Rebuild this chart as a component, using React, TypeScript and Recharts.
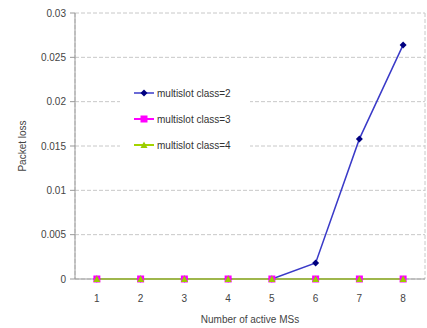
import React from 'react';
import { LineChart, Line, XAxis, YAxis, CartesianGrid, Legend } from 'recharts';

const msCounts = [1, 2, 3, 4, 5, 6, 7, 8];
const lossClass2 = [0, 0, 0, 0, 0, 0.0018, 0.0158, 0.0264];
const lossClass3 = [0, 0, 0, 0, 0, 0, 0, 0];
const lossClass4 = [0, 0, 0, 0, 0, 0, 0, 0];
const yTicks = [0, 0.005, 0.01, 0.015, 0.02, 0.025, 0.03];
const bandEdges = [0.5, 1.5, 2.5, 3.5, 4.5, 5.5, 6.5, 7.5, 8.5];

const series = [
  { key: 'c2', name: 'multislot class=2', stroke: '#3a3ac8', fill: '#000080', shape: 'diamond', width: 1.5 },
  { key: 'c3', name: 'multislot class=3', stroke: '#ff00ff', fill: '#ff00ff', shape: 'square', width: 2 },
  { key: 'c4', name: 'multislot class=4', stroke: '#a4d400', fill: '#99cc00', shape: 'triangle', width: 2 },
];

const data = msCounts.map((n, i) => ({ n, c2: lossClass2[i], c3: lossClass3[i], c4: lossClass4[i] }));

const FONT = '"Liberation Sans", Arial, sans-serif';

function Marker({ shape, cx, cy, fill }: { shape: string; cx: number; cy: number; fill: string }) {
  if (shape === 'diamond') {
    return <polygon points={`${cx},${cy - 3.5} ${cx + 3.5},${cy} ${cx},${cy + 3.5} ${cx - 3.5},${cy}`} fill={fill} />;
  }
  if (shape === 'square') {
    return <rect x={cx - 3.5} y={cy - 3.5} width={7} height={7} fill={fill} />;
  }
  return <polygon points={`${cx},${cy - 3.5} ${cx + 3.5},${cy + 3} ${cx - 3.5},${cy + 3}`} fill={fill} />;
}

function makeDot(s: typeof series[number]) {
  return (props: any) => {
    const { cx, cy, index } = props;
    if (cx == null || cy == null) return <g key={`${s.key}-${index}`} />;
    return <Marker key={`${s.key}-${index}`} shape={s.shape} cx={cx} cy={cy} fill={s.fill} />;
  };
}

function LegendBox() {
  return (
    <div style={{ background: '#fff', width: 130, height: 80, fontFamily: FONT, fontSize: 10, color: '#333' }}>
      {series.map((s, i) => (
        <div key={s.key} style={{ position: 'absolute', left: 14, top: 6 + i * 26, height: 14, display: 'flex', alignItems: 'center' }}>
          <svg width={20} height={10} style={{ marginRight: 3 }}>
            <line x1={0} y1={5} x2={20} y2={5} stroke={s.stroke} strokeWidth={s.width} />
            <Marker shape={s.shape} cx={10} cy={5} fill={s.fill} />
          </svg>
          <span>{s.name}</span>
        </div>
      ))}
    </div>
  );
}

export default function App() {
  return (
    <div style={{ position: 'absolute', left: 0, top: 0, width: 427, height: 328, background: '#fff' }}>
      <LineChart width={427} height={328} data={data} margin={{ top: 13, right: 2, bottom: 0, left: 0 }}>
        <CartesianGrid xAxisId="edges" stroke="#c8c8c8" strokeDasharray="4 2" />
        <XAxis
          xAxisId="edges"
          dataKey="n"
          type="number"
          domain={[0.5, 8.5]}
          ticks={bandEdges}
          tick={false}
          axisLine={false}
          tickLine={{ stroke: '#999' }}
          tickSize={4}
          height={0}
        />
        <XAxis
          xAxisId="main"
          dataKey="n"
          type="number"
          domain={[0.5, 8.5]}
          ticks={msCounts}
          tickLine={false}
          axisLine={{ stroke: '#999' }}
          tick={{ fontSize: 10, fill: '#444', fontFamily: FONT }}
          tickMargin={10}
          height={49}
          label={{ value: 'Number of active MSs', position: 'insideBottom', offset: 5, fontSize: 10, fill: '#444', fontFamily: FONT }}
        />
        <YAxis
          domain={[0, 0.03]}
          ticks={yTicks}
          width={75}
          axisLine={{ stroke: '#999' }}
          tickLine={{ stroke: '#999' }}
          tickSize={5}
          tickMargin={4}
          tick={{ fontSize: 10, fill: '#444', fontFamily: FONT }}
          label={{ value: 'Packet loss', angle: -90, position: 'insideLeft', offset: 22, fontSize: 10, fill: '#444', fontFamily: FONT, style: { textAnchor: 'middle' } }}
        />
        <Legend
          layout="vertical"
          align="center"
          verticalAlign="middle"
          wrapperStyle={{ left: 120, top: 80, width: 130, height: 80 }}
          content={() => <LegendBox />}
        />
        {series.map((s) => (
          <Line
            key={s.key}
            xAxisId="main"
            dataKey={s.key}
            name={s.name}
            stroke={s.stroke}
            strokeWidth={s.width}
            dot={makeDot(s)}
            activeDot={false}
            isAnimationActive={false}
          />
        ))}
      </LineChart>
    </div>
  );
}
